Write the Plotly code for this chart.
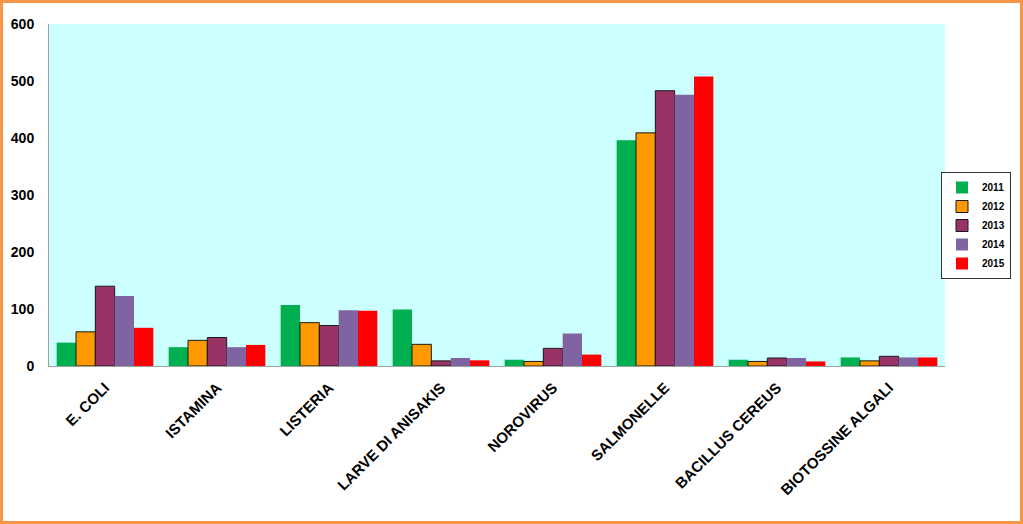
import plotly.graph_objects as go

categories = ["E. COLI", "ISTAMINA", "LISTERIA", "LARVE DI ANISAKIS", "NOROVIRUS",
              "SALMONELLE", "BACILLUS CEREUS", "BIOTOSSINE ALGALI"]
years = ["2011", "2012", "2013", "2014", "2015"]
v2011 = [41, 33, 107, 99, 11, 396, 11, 15]
v2012 = [60, 45, 76, 38, 8, 409, 8, 9]
v2013 = [140, 50, 71, 9, 31, 483, 14, 17]
v2014 = [123, 33, 98, 14, 57, 476, 14, 15]
v2015 = [67, 37, 97, 10, 20, 508, 8, 15]
series = [v2011, v2012, v2013, v2014, v2015]
y_ticks = [0, 100, 200, 300, 400, 500, 600]

colors = ["#00B050", "#FF9900", "#993366", "#8064A2", "#FF0000"]
outlines = [None, "#1a1a1a", "#1a1a1a", None, None]

fig = go.Figure()
for yr, vals, c, oc in zip(years, series, colors, outlines):
    fig.add_trace(go.Bar(
        x=categories, y=vals, name=yr,
        marker=dict(color=c, line=dict(color=oc if oc else c, width=1 if oc else 0)),
    ))

W, H = 1023, 524
ml, mr, mt, mb = 49, 78, 24, 158
pw, ph = W - ml - mr, H - mt - mb

fig.update_layout(
    width=W, height=H,
    margin=dict(l=ml, r=mr, t=mt, b=mb, pad=0),
    barmode="group", bargap=0.137, bargroupgap=0,
    plot_bgcolor="#CCFFFF", paper_bgcolor="white",
    font=dict(family="Liberation Sans, Arial, sans-serif", color="black"),
    showlegend=True,
    legend=dict(
        x=(941 - ml) / pw, y=(H - mb - 172) / ph, xanchor="left", yanchor="top",
        bgcolor="white", bordercolor="#333333", borderwidth=1,
        font=dict(size=10, family="Liberation Sans, Arial, sans-serif", weight="bold"),
        tracegroupgap=0, itemwidth=30,
    ),
    xaxis=dict(
        tickangle=-45, showgrid=False, showline=True, linecolor="#A0A0A0", linewidth=1,
        tickfont=dict(size=15, weight="bold"), ticks="", ticklabelstandoff=6,
    ),
    yaxis=dict(
        range=[0, 600], tickvals=y_ticks, showgrid=False, showline=True,
        linecolor="#A0A0A0", linewidth=1, ticks="", zeroline=False,
        tickfont=dict(size=14, weight="bold"), ticklabelstandoff=11,
    ),
    shapes=[dict(
        type="rect", xref="paper", yref="paper",
        x0=(1.5 - ml) / pw, x1=(W - 1.5 - ml) / pw,
        y0=-(mb - 1.5) / ph, y1=1 + (mt - 1.5) / ph,
        line=dict(color="#F79646", width=3), layer="above",
    )],
)

fig.write_html(
    "out.html",
    config={"displayModeBar": False},
    post_script="document.body.style.margin='0';document.body.style.overflow='hidden';",
)
